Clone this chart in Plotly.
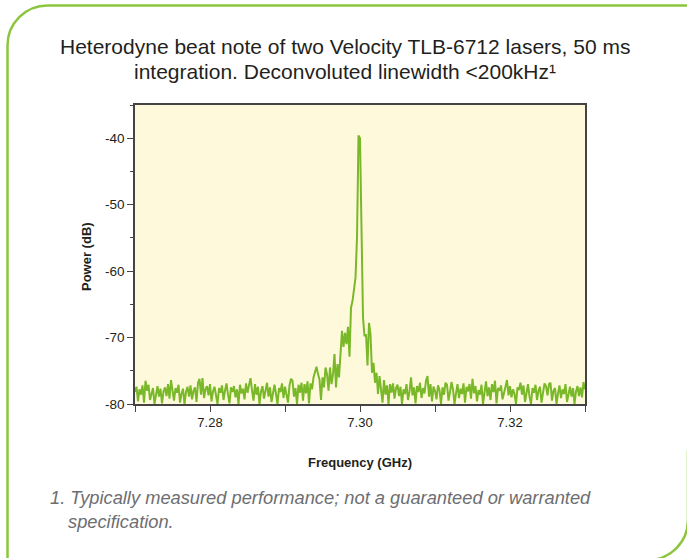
import plotly.graph_objects as go

# ---- data ----
freq_start_ghz = 7.27
freq_step_ghz = 0.0002
power_db = [
    -78.2, -77.4, -79.6, -77.8, -78.6, -77.2, -79.8, -76.5, -78.0, -77.1, -79.4, -78.3, -77.6, -80.0, -78.4, -77.3, -78.9, -77.7, -79.9, -78.1, -77.5, -78.8, -77.0, -79.2, -76.4,
    -77.9, -79.5, -77.6, -78.3, -77.1, -79.8, -78.5, -77.7, -80.0, -78.2, -77.4, -78.9, -77.2, -79.3, -78.0, -77.5, -79.7, -76.8, -76.2, -78.6, -76.1, -79.1, -77.8, -77.3, -78.7,
    -77.0, -79.6, -78.1, -77.4, -78.8, -80.0, -77.6, -78.3, -77.2, -79.4, -78.0, -76.9, -78.6, -79.9, -77.5, -78.2, -77.3, -79.0, -77.8, -80.0, -77.1, -78.4, -77.7, -79.3, -76.9,
    -78.3, -77.2, -76.1, -77.9, -79.5, -77.0, -78.6, -77.4, -80.0, -78.1, -77.3, -79.2, -77.8, -76.8, -78.9, -77.5, -79.7, -78.0, -77.1, -78.5, -80.0, -77.6, -78.2, -76.9, -79.1,
    -77.4, -78.7, -79.8, -77.2, -76.2, -76.5, -78.9, -77.6, -80.0, -77.1, -78.3, -76.8, -79.5, -77.0, -78.4, -76.6, -79.9, -76.9, -77.8, -76.0, -75.0, -74.4, -75.5, -76.3, -79.4,
    -76.0, -77.5, -74.5, -75.5, -78.0, -74.5, -77.0, -75.5, -72.5, -77.5, -74.0, -76.0, -73.0, -69.0, -71.4, -69.3, -71.0, -68.4, -72.9, -65.5, -64.5, -63.0, -61.0, -55.0, -39.6,
    -40.0, -55.0, -67.0, -69.8, -69.5, -74.2, -67.8, -69.5, -75.3, -73.8, -76.8, -75.3, -78.5, -75.8, -77.5, -79.8, -76.4, -78.6, -77.2, -80.0, -77.0, -78.3, -76.9, -79.2, -77.6,
    -77.1, -78.8, -77.4, -80.0, -77.8, -78.5, -77.0, -79.4, -78.1, -76.0, -78.7, -77.5, -79.9, -77.3, -78.2, -76.8, -79.1, -77.6, -78.4, -76.5, -75.8, -78.9, -77.0, -79.6, -77.4,
    -78.0, -79.3, -77.2, -77.9, -80.0, -77.5, -78.6, -76.8, -77.1, -79.5, -78.2, -76.7, -77.8, -80.0, -78.4, -77.0, -79.1, -77.7, -78.5, -76.9, -79.8, -77.4, -78.1, -77.0, -79.2,
    -76.2, -78.4, -77.3, -79.6, -77.9, -78.6, -77.1, -80.0, -78.3, -76.6, -78.8, -77.5, -79.4, -77.0, -78.2, -76.5, -79.9, -77.6, -78.0, -77.2, -79.3, -78.5, -77.4, -76.4, -78.7,
    -77.3, -79.0, -77.8, -78.5, -80.0, -77.5, -77.9, -76.8, -78.6, -77.2, -79.7, -78.1, -77.0, -78.9, -80.0, -77.6, -78.3, -77.1, -79.4, -78.0, -77.4, -79.8, -78.2, -76.9, -77.3,
    -78.7, -77.0, -76.8, -79.5, -78.0, -77.6, -80.0, -78.4, -77.2, -79.1, -77.8, -78.5, -77.0, -79.7, -78.2, -77.4, -78.9, -77.6, -80.0, -78.1, -77.3, -78.8, -77.5, -79.0, -76.7,
    -77.8,
]
x_tick_vals = [7.28, 7.30, 7.32]
x_tick_text = ["7.28", "7.30", "7.32"]
y_tick_vals = [-80, -70, -60, -50, -40]
y_tick_text = ["-80", "-70", "-60", "-50", "-40"]

title_line1 = "Heterodyne beat note of two Velocity TLB-6712 lasers, 50 ms"
title_line2 = "integration. Deconvoluted linewidth &lt;200kHz\u00b9"
x_title = "Frequency (GHz)"
y_title = "Power (dB)"
foot_line1 = "1. Typically measured performance; not a guaranteed or warranted"
foot_line2 = "specification."

# ---- layout geometry (pixels) ----
W, H = 687, 558
ML, MR, MT, MB = 135, 102, 105, 154
PW = W - ML - MR
PH = H - MT - MB


def px(xp):
    return (xp - ML) / PW


def py(yp):
    return (H - MB - yp) / PH


FONT = "Liberation Sans, Arial, Helvetica, sans-serif"
GREEN_LINE = "#79b829"
CARD_GREEN = "#8cc63f"
TXT = "#231f20"

fig = go.Figure()
fig.add_trace(go.Scatter(
    x0=freq_start_ghz, dx=freq_step_ghz, y=power_db,
    mode="lines",
    line=dict(color=GREEN_LINE, width=2),
    hoverinfo="skip",
    showlegend=False,
))

# card border path (rounded top-left and bottom-right corners)
k = 0.5523
r = 40
lx, ty = 7.5, 5.5
rx, by = 688, 560
path = (
    f"M {px(lx)},{py(600)} L {px(lx)},{py(ty + r)} "
    f"C {px(lx)},{py(ty + r - k * r)} {px(lx + r - k * r)},{py(ty)} {px(lx + r)},{py(ty)} "
    f"L {px(720)},{py(ty)} "
    f"M {px(rx)},{py(450)} L {px(rx)},{py(by - r)} "
    f"C {px(rx)},{py(by - r + k * r)} {px(rx - r + k * r)},{py(by)} {px(rx - r)},{py(by)} "
    f"L {px(-20)},{py(by)}"
)

annotations = [
    dict(text=title_line1, x=px(345), y=py(47), xref="paper", yref="paper",
         xanchor="center", yanchor="middle", showarrow=False,
         font=dict(family=FONT, size=21, color=TXT)),
    dict(text=title_line2, x=px(345), y=py(71), xref="paper", yref="paper",
         xanchor="center", yanchor="middle", showarrow=False,
         font=dict(family=FONT, size=21, color=TXT)),
    dict(text=x_title, x=px(360), y=py(462), xref="paper", yref="paper",
         xanchor="center", yanchor="middle", showarrow=False,
         font=dict(family=FONT, size=13, color=TXT, weight="bold")),
    dict(text=y_title, x=px(86), y=py(257), xref="paper", yref="paper",
         xanchor="center", yanchor="middle", showarrow=False, textangle=-90,
         font=dict(family=FONT, size=13, color=TXT, weight="bold")),
    dict(text=foot_line1, x=px(48), y=py(497), xref="paper", yref="paper",
         xanchor="left", yanchor="middle", showarrow=False,
         font=dict(family=FONT, size=18.3, color="#6d6e71", style="italic")),
    dict(text=foot_line2, x=px(66), y=py(521), xref="paper", yref="paper",
         xanchor="left", yanchor="middle", showarrow=False,
         font=dict(family=FONT, size=18.3, color="#6d6e71", style="italic")),
]

fig.update_layout(
    width=W, height=H,
    margin=dict(l=ML, r=MR, t=MT, b=MB, pad=0),
    paper_bgcolor="white",
    plot_bgcolor="#fff9dc",
    font=dict(family=FONT, size=13, color=TXT),
    showlegend=False,
    annotations=annotations,
    shapes=[dict(type="path", path=path, xref="paper", yref="paper",
                 line=dict(color=CARD_GREEN, width=2.5), layer="above")],
    xaxis=dict(
        range=[7.27, 7.33], tickmode="array", tickvals=x_tick_vals, ticktext=x_tick_text,
        ticks="outside", ticklen=6, tickwidth=1.2, tickcolor="#444",
        minor=dict(dtick=0.01, tick0=7.27, ticks="outside", ticklen=6, tickwidth=1.2, tickcolor="#444"),
        showline=True, linecolor="#444", linewidth=1.5, mirror=True,
        showgrid=False, zeroline=False, tickfont=dict(size=13, color=TXT),
    ),
    yaxis=dict(
        range=[-80, -35], tickmode="array", tickvals=y_tick_vals, ticktext=y_tick_text,
        ticks="outside", ticklen=6, tickwidth=1.2, tickcolor="#444",
        minor=dict(dtick=5, tick0=-80, ticks="outside", ticklen=3, tickwidth=1, tickcolor="#444"),
        showline=True, linecolor="#444", linewidth=1.5, mirror=True,
        showgrid=False, zeroline=False, tickfont=dict(size=13.5, color=TXT),
    ),
)

fig.write_html("out.html", config={"displayModeBar": False},
               post_script="document.body.style.margin='0px';")
